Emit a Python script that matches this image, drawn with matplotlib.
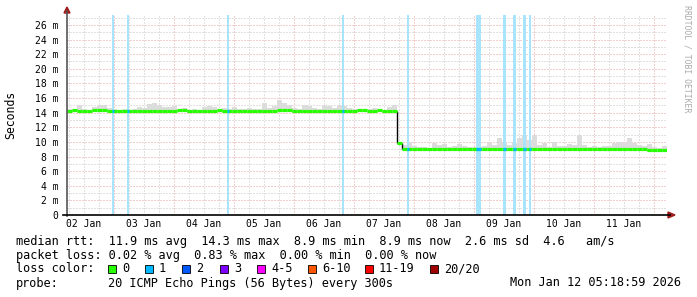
import matplotlib
matplotlib.use("Agg")
import matplotlib.pyplot as plt
import matplotlib.dates as mdates
from matplotlib.patches import Polygon, Rectangle
from matplotlib.lines import Line2D
from datetime import datetime, timedelta
import numpy as np

MONO = ["DejaVu Sans Mono"]
plt.rcParams.update({"font.family": MONO, "font.size": 8})

W, H = 697, 297

# ── data ─────────────────────────────────────────────────────
start = datetime(2026, 1, 2, 5, 18, 59)
step_h = 2

median_ms = [
    14.2, 14.35, 14.2, 14.2, 14.2, 14.35, 14.35, 14.35, 14.2, 14.2,
    14.2, 14.2, 14.2, 14.2, 14.2, 14.2, 14.2, 14.2, 14.2, 14.2,
    14.2, 14.2, 14.35, 14.35, 14.2, 14.2, 14.2, 14.2, 14.2, 14.2,
    14.35, 14.2, 14.2, 14.2, 14.2, 14.2, 14.2, 14.2, 14.2, 14.2,
    14.2, 14.2, 14.35, 14.35, 14.35, 14.2, 14.2, 14.2, 14.2, 14.2,
    14.2, 14.2, 14.2, 14.2, 14.2, 14.2, 14.2, 14.2, 14.35, 14.35,
    14.2, 14.2, 14.35, 14.2, 14.2, 14.2,
    9.8,
    9.05, 9.05, 9.05, 9.0, 9.05, 9.05, 9.05, 9.05, 9.05, 9.05,
    9.05, 9.05, 9.05, 9.05, 9.05, 9.05, 9.05, 9.05, 9.05, 9.05,
    9.05, 9.05, 9.05, 9.05, 9.05, 9.05, 9.05, 9.05, 9.05, 9.05,
    9.05, 9.05, 9.05, 9.05, 9.05, 9.05, 9.05, 9.05, 9.05, 9.05,
    9.05, 9.05, 9.05, 9.05, 9.05, 9.0, 9.0, 9.0, 9.0,
    8.85, 8.85, 8.85, 8.85,
]

smoke_top_ms = [
    14.5, 14.45, 15.1, 14.5, 14.4, 14.8, 15.0, 15.0, 14.6, 14.5,
    14.4, 14.5, 14.4, 14.5, 14.8, 14.6, 15.2, 15.3, 15.0, 14.8,
    14.8, 14.9, 14.45, 14.6, 14.4, 14.5, 14.4, 14.8, 14.9, 14.8,
    14.5, 14.6, 14.5, 14.8, 14.5, 14.5, 14.6, 14.5, 14.5, 15.3,
    14.6, 14.9, 15.8, 15.3, 15.0, 14.6, 14.5, 15.0, 14.9, 14.6,
    14.5, 15.1, 14.9, 14.6, 15.0, 14.9, 14.6, 14.5, 14.45, 14.5,
    14.5, 14.6, 14.5, 14.4, 14.8, 15.1,
    10.0,
    9.6, 10.0, 9.5, 9.35, 9.35, 9.2, 9.8, 9.6, 9.65, 9.35,
    9.5, 9.65, 9.5, 9.35, 9.35, 9.3, 9.5, 9.9, 9.6, 10.5,
    9.8, 9.6, 9.8, 10.5, 10.9, 10.3, 10.9, 9.6, 9.8, 9.35,
    10.0, 9.5, 9.5, 9.65, 9.6, 10.9, 9.6, 9.35, 9.5, 9.35,
    9.5, 9.5, 9.8, 10.0, 9.8, 10.5, 9.8, 9.6, 9.5, 9.65,
    9.35, 9.2, 9.5,
]

# loss events (1/20 lost): hours after start, duration in hours
loss_start_h = [18.0, 24.0, 64.0, 110.0, 136.0, 163.6, 174.4, 178.4, 182.4, 184.8]
loss_dur_h = [0.8, 0.8, 0.8, 0.8, 0.8, 2.0, 1.2, 1.2, 1.2, 0.8]

loss_labels = ["0", "1", "2", "3", "4-5", "6-10", "11-19", "20/20"]
loss_colors = ["#26ff00", "#00b8ff", "#0059ff", "#7e00ff", "#ff00ff",
               "#ff5500", "#ff0000", "#a10000"]

stats_rtt = "median rtt:  11.9 ms avg  14.3 ms max  8.9 ms min  8.9 ms now  2.6 ms sd  4.6   am/s"
stats_loss = "packet loss: 0.02 % avg  0.83 % max  0.00 % min  0.00 % now"
probe_txt = "20 ICMP Echo Pings (56 Bytes) every 300s"
stamp_txt = "Mon Jan 12 05:18:59 2026"

# ── colours ─────────────────────────────────────────────────
SMOKE = "#dcdcdc"
LOSS_BG = "#a8e4fc"
GRID_MIN = "#c4c4c4"
GRID_MAJ = "#e6a0a0"
ARROW = "#a01c1c"

# ── figure ──────────────────────────────────────────────────
fig = plt.figure(figsize=(W / 100, H / 100), dpi=100)

def fx(x): return x / W
def fy(y): return 1 - y / H

X0, X1, YTOP, YBOT = 67, 667, 15, 215
ax = fig.add_axes([fx(X0), fy(YBOT), (X1 - X0) / W, (YBOT - YTOP) / H])
end = start + timedelta(days=10)
ax.set_xlim(start, end)
ax.set_ylim(0, 27.36)
for s in ax.spines.values():
    s.set_visible(False)

# grid
for v in range(1, 28):
    ax.axhline(v, color=GRID_MAJ if v % 2 == 0 else GRID_MIN, lw=0.72,
               ls=(0, (1, 2)), zorder=0.5)
t = datetime(2026, 1, 2, 6)
while t < end:
    ax.axvline(t, color=GRID_MAJ if t.hour == 0 else GRID_MIN, lw=0.72,
               ls=(0, (1, 2)), zorder=0.5)
    t += timedelta(hours=6)

# smoke
n = len(median_ms)
times = [start + timedelta(hours=step_h * i) for i in range(n + 1)]
med = np.array(median_ms)
top = np.array(smoke_top_ms)
ax.fill_between(times, np.append(med - 0.25, med[-1] - 0.25), np.append(top, top[-1]),
                step="post", color=SMOKE, lw=0, zorder=1)

# loss background columns
for h, d in zip(loss_start_h, loss_dur_h):
    a = start + timedelta(hours=h)
    b = a + timedelta(hours=d)
    ax.axvspan(a, b, color=LOSS_BG, lw=0, zorder=2)

# median line (black connector only on real jumps)
jump = np.abs(np.diff(med)) > 0.5
ax.vlines(np.array(times[1:n])[jump], med[:-1][jump], med[1:][jump],
          color="black", lw=1.0, zorder=3)
ax.hlines(med, times[:-1], times[1:], color=loss_colors[0], lw=2.3, zorder=4)
for h, d in zip(loss_start_h, loss_dur_h):
    a = start + timedelta(hours=h)
    b = a + timedelta(hours=d)
    m = median_ms[int(h // step_h)]
    ax.hlines(m, a, b, color=loss_colors[1], lw=2.3, zorder=5)

# ticks
ax.set_yticks(range(0, 27, 2))
ax.set_yticklabels(["0"] + [f"{v} m" for v in range(2, 27, 2)])
ax.xaxis.set_major_locator(mdates.HourLocator(byhour=[12]))
ax.xaxis.set_major_formatter(mdates.DateFormatter("%d %b"))
ax.tick_params(axis="both", length=0, labelsize=7)
ax.tick_params(axis="y", pad=6)
ax.tick_params(axis="x", pad=3)

# axis lines + arrow heads
fig.add_artist(Line2D([fx(67), fx(67)], [fy(216), fy(11)], color="#555555", lw=1.2))
fig.add_artist(Line2D([fx(63), fx(670)], [fy(215), fy(215)], color="black", lw=1.2))
fig.add_artist(Polygon([(fx(64), fy(13)), (fx(70), fy(13)), (fx(67), fy(7))],
                       closed=True, color=ARROW, transform=fig.transFigure))
fig.add_artist(Polygon([(fx(668), fy(212)), (fx(668), fy(218)), (fx(675), fy(215))],
                       closed=True, color=ARROW, transform=fig.transFigure))

# side labels
fig.text(fx(11), fy(115), "Seconds", rotation=90, ha="center", va="center", fontsize=8.3)
fig.text(fx(687), fy(5), "RRDTOOL / TOBI OETIKER", rotation=270, ha="center", va="top",
         fontsize=5.9, color="#aaaaaa")

# legend block
FS = 8.55
fig.text(fx(16), fy(241), stats_rtt, ha="left", va="center", fontsize=FS)
fig.text(fx(16), fy(255), stats_loss, ha="left", va="center", fontsize=FS)
fig.text(fx(16), fy(269), "loss color:", ha="left", va="center", fontsize=FS)
box_x = [108, 145, 182, 220, 257, 308, 365, 430]
for bx, lab, col in zip(box_x, loss_labels, loss_colors):
    fig.add_artist(Rectangle((fx(bx), fy(273)), 8 / W, 8 / H, facecolor=col,
                             edgecolor="black", lw=0.6, transform=fig.transFigure))
    fig.text(fx(bx + 14), fy(269), lab, ha="left", va="center", fontsize=FS)
fig.text(fx(16), fy(283), "probe:", ha="left", va="center", fontsize=FS)
fig.text(fx(108), fy(283), probe_txt, ha="left", va="center", fontsize=FS)
fig.text(fx(681), fy(283), stamp_txt, ha="right", va="center", fontsize=FS)

fig.savefig("out.png", dpi=100, facecolor="white")
